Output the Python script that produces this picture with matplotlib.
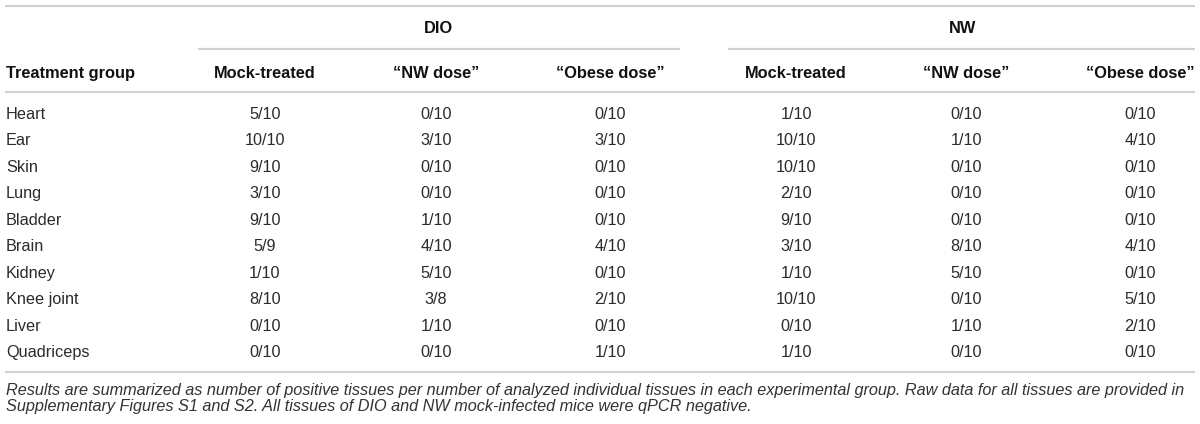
import matplotlib
matplotlib.use("Agg")
import matplotlib.pyplot as plt

# ---- data ----
tissues = ["Heart", "Ear", "Skin", "Lung", "Bladder", "Brain", "Kidney",
           "Knee joint", "Liver", "Quadriceps"]
dio_mock = ["5/10", "10/10", "9/10", "3/10", "9/10", "5/9", "1/10", "8/10", "0/10", "0/10"]
dio_nw = ["0/10", "3/10", "0/10", "0/10", "1/10", "4/10", "5/10", "3/8", "1/10", "0/10"]
dio_obese = ["0/10", "3/10", "0/10", "0/10", "0/10", "4/10", "0/10", "2/10", "0/10", "1/10"]
nw_mock = ["1/10", "10/10", "10/10", "2/10", "9/10", "3/10", "1/10", "10/10", "0/10", "1/10"]
nw_nw = ["0/10", "1/10", "0/10", "0/10", "0/10", "8/10", "5/10", "0/10", "1/10", "0/10"]
nw_obese = ["0/10", "4/10", "0/10", "0/10", "0/10", "4/10", "0/10", "5/10", "2/10", "0/10"]
groups = ["DIO", "NW"]
sub_headers = ["Mock-treated", "\u201cNW dose\u201d", "\u201cObese dose\u201d"]
first_header = "Treatment group"
footnote = [
    "Results are summarized as number of positive tissues per number of analyzed individual "
    "tissues in each experimental group. Raw data for all tissues are provided in",
    "Supplementary Figures S1 and S2. All tissues of DIO and NW mock-infected mice were qPCR negative.",
]

# ---- layout ----
W, H = 1200, 424
fig = plt.figure(figsize=(W / 100, H / 100), dpi=100)
ax = fig.add_axes([0, 0, 1, 1])
ax.set_xlim(0, W)
ax.set_ylim(H, 0)
ax.axis("off")

FONT = "Liberation Sans"
body_fs = 11.7
head_fs = 11.8
body_col = "#2b2b2b"
head_col = "#111111"
line_col = "#d2d2d2"
lw = 1.6

col_x = [265, 436, 610, 796, 966, 1140]
group_x = [438, 963]
group_line = [(198, 680), (728, 1195)]
left = 6
right = 1195

cap = 5.6  # half cap height in px, baseline offset

# rules
ax.plot([left - 1, right], [6, 6], color=line_col, lw=lw, solid_capstyle="butt")
for (a, b) in group_line:
    ax.plot([a, b], [49, 49], color=line_col, lw=lw, solid_capstyle="butt")
ax.plot([left - 1, right], [92, 92], color=line_col, lw=lw, solid_capstyle="butt")
ax.plot([left - 1, right], [372, 372], color=line_col, lw=lw, solid_capstyle="butt")

# group headers
for g, gx in zip(groups, group_x):
    ax.text(gx, 27 + cap, g, ha="center", va="baseline", fontsize=head_fs,
            fontweight="bold", family=FONT, color=head_col)

# column headers
ax.text(left, 72 + cap, first_header, ha="left", va="baseline", fontsize=head_fs,
        fontweight="bold", family=FONT, color=head_col)
for i, cx in enumerate(col_x):
    ax.text(cx, 72 + cap, sub_headers[i % 3], ha="center", va="baseline",
            fontsize=head_fs, fontweight="bold", family=FONT, color=head_col)

# body
columns = [dio_mock, dio_nw, dio_obese, nw_mock, nw_nw, nw_obese]
for r, t in enumerate(tissues):
    y = 113 + 26.5 * r + cap
    ax.text(left, y, t, ha="left", va="baseline", fontsize=body_fs,
            family=FONT, color=body_col)
    for cx, col in zip(col_x, columns):
        ax.text(cx, y, col[r], ha="center", va="baseline", fontsize=body_fs,
                family=FONT, color=body_col)

# footnote, first line fitted to the table width
fn_fs = 10.5
t1 = ax.text(left, 390 + 5, footnote[0], ha="left", va="baseline", fontsize=fn_fs,
             family=FONT, style="italic", color="#333333")
fig.canvas.draw()
bb = t1.get_window_extent()
target = right - left
fn_fs = fn_fs * target / bb.width
t1.set_fontsize(fn_fs)
ax.text(left, 406 + 5, footnote[1], ha="left", va="baseline", fontsize=fn_fs,
        family=FONT, style="italic", color="#333333")

fig.savefig("out.png", dpi=100)
